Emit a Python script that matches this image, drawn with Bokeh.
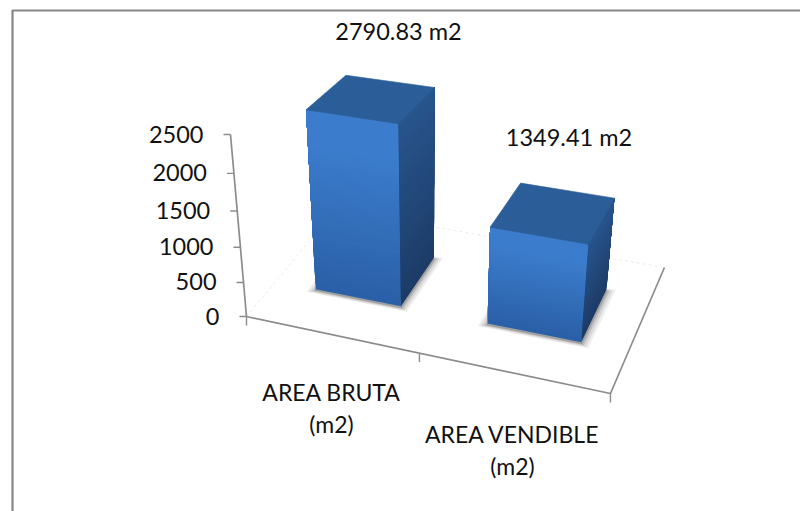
from bokeh.plotting import figure
from bokeh.models import Range1d
from bokeh.core.properties import value
from bokeh.embed import file_html
from bokeh.resources import INLINE

categories = ["AREA BRUTA\n(m2)", "AREA VENDIBLE\n(m2)"]
areas = [2790.83, 1349.41]
bar_labels = ["2790.83 m2", "1349.41 m2"]
y_ticks = [0, 500, 1000, 1500, 2000, 2500]
AXIS_MAX = 2500

# 3D projection of the chart box: u along categories, d into depth, v = value / axis max
def project(u, d, val):
    v = val / AXIS_MAX
    w = -0.0947 * u + 0.1219 * d - 0.08 * v + 1
    x = (306.2 * u + 129.8 * d - 34.4 * v + 246) / w
    y = (39.8 * u - 81.5 * d - 192.7 * v + 14.5 * v * max(0, d - 0.3) + 316) / w
    return x, y

def poly(points):
    pts = [project(*q) for q in points]
    return [a for a, _ in pts], [b for _, b in pts]

def mix(c1, c2, t):
    return "#%02x%02x%02x" % tuple(round(a + (b - a) * t) for a, b in zip(c1, c2))

FONT = value("Lato")
FS = "23.5px"
GRID = "#8c8c8c"
p = figure(width=800, height=511, x_range=Range1d(0, 800), y_range=Range1d(511, 0),
           output_backend="svg", toolbar_location=None, min_border=0)
p.axis.visible = False
p.grid.visible = False
p.outline_line_color = None
p.background_fill_color = "white"

# chart frame (only top and left edges fall inside the picture)
p.line([12, 12, 800], [511, 10, 10], line_color="#868686", line_width=2.2)

# back gridlines of the floor
for pts in ([(0, 0, 0), (0, 1, 0)], [(0, 1, 0), (1, 1, 0)]):
    xs, ys = poly(pts)
    p.line(xs, ys, line_color="#ececec", line_width=1, line_dash="3 3")

# axes
xs, ys = poly([(0, 0, 0), (0, 0, AXIS_MAX)])
p.line(xs, ys, line_color=GRID, line_width=1.7)
xs, ys = poly([(0, 0, 0), (1, 0, 0), (1, 1, 0)])
p.line(xs, ys, line_color=GRID, line_width=1.7)

for t in y_ticks:
    x, y = project(0, 0, t)
    p.line([x - 7, x], [y, y], line_color=GRID, line_width=1.4)
    p.text([x - 27], [y - 0.5], text=[str(t)], text_font=FONT, text_font_size=FS,
           text_align="right", text_baseline="middle", text_color="#111111")
for u in (0, 0.5, 1):
    x, y = project(u, 0, 0)
    p.line([x, x], [y, y + 9], line_color=GRID, line_width=1.4)

# bars
HALF = 0.127
D0, D1 = 0.305, 0.735
centres = [0.25, 0.75]
for c, val in zip(centres, areas):
    u0, u1 = c - HALF, c + HALF
    h = min(val, AXIS_MAX)
    # soft shadow on the floor
    for grow, alpha in ((0.022, 0.10), (0.015, 0.14), (0.008, 0.20), (0.003, 0.28)):
        xs, ys = poly([(u0 - grow, D0 - grow, 0), (u1 + grow, D0 - grow, 0),
                       (u1 + grow, D1 + grow, 0), (u0 - grow, D1 + grow, 0)])
        p.patch(xs, [a + 1.5 for a in ys], fill_color="#555555", fill_alpha=alpha, line_color=None)
    n = 30
    # painter's order: each band runs up to the bar top, so no seams show between bands
    for i in range(n):
        v0 = h * i / n
        t = (i + 0.5) / n
        s = min(t / 0.82, 1)
        col = mix((0x2a, 0x5f, 0xa6), (0x3b, 0x7c, 0xcc), s)
        xs, ys = poly([(u0, D0, v0), (u1, D0, v0), (u1, D0, h), (u0, D0, h)])
        p.patch(xs, ys, fill_color=col, line_color=None)
        col = mix((0x1c, 0x3b, 0x66), (0x28, 0x54, 0x8d), t)
        xs, ys = poly([(u1, D0, v0), (u1, D1, v0), (u1, D1, h), (u1, D0, h)])
        p.patch(xs, ys, fill_color=col, line_color=None)
    xs, ys = poly([(u0, D0, h), (u1, D0, h), (u1, D1, h), (u0, D1, h)])
    p.patch(xs, ys, fill_color="#2b5e99", line_color="#2b5e99", line_width=0.6)

# texts
label_pos = [(398, 30), (568.5, 136.5)]
for (x, y), s in zip(label_pos, bar_labels):
    p.text([x], [y], text=[s], text_font=FONT, text_font_size=FS,
           text_align="center", text_baseline="middle", text_color="#111111")
cat_pos = [(331, 391, 423.5), (512, 433, 465.5)]
for (x, y1, y2), s in zip(cat_pos, categories):
    l1, l2 = s.split("\n")
    p.text([x, x], [y1, y2], text=[l1, l2], text_font=FONT, text_font_size="23px",
           text_align="center", text_baseline="middle", text_color="#111111")

open("out.html", "w").write(file_html(p, INLINE))
